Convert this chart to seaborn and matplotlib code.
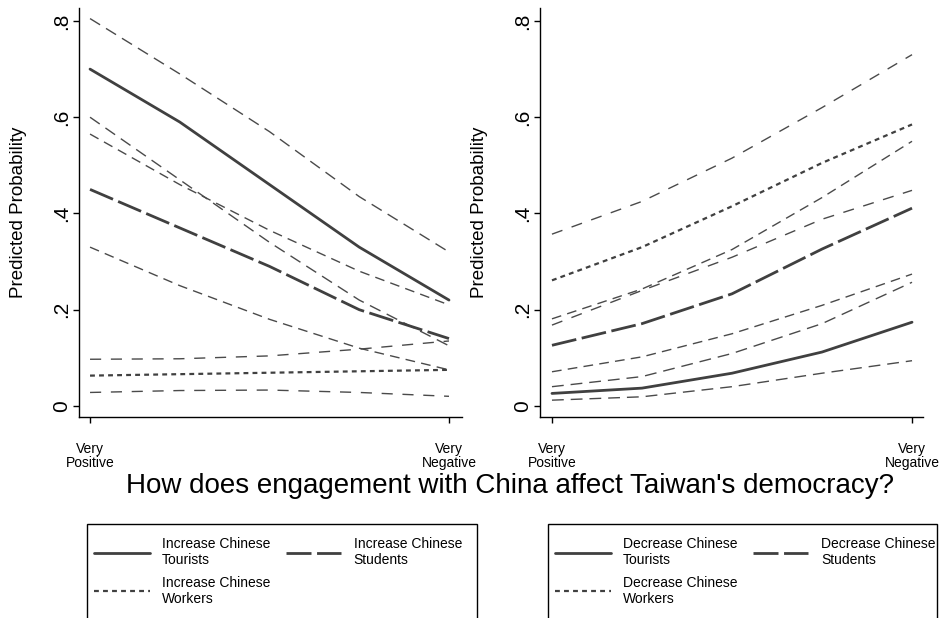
import matplotlib
matplotlib.use("Agg")
import matplotlib.pyplot as plt
from matplotlib.lines import Line2D
from matplotlib.patches import Rectangle
import numpy as np
import pandas as pd
import seaborn as sns

# Attitude scale (1 = very positive ... 5 = very negative)
x_levels = [1, 2, 3, 4, 5]
x_ticks = [1, 5]
x_ticklabels = ["Very\nPositive", "Very\nNegative"]
y_ticks = [0, 0.2, 0.4, 0.6, 0.8]
y_ticklabels = ["0", ".2", ".4", ".6", ".8"]

# Predicted probability: increase engagement (point estimate, upper, lower)
inc_tourists = [0.700, 0.590, 0.460, 0.330, 0.220]
inc_tourists_hi = [0.805, 0.690, 0.570, 0.435, 0.320]
inc_tourists_lo = [0.600, 0.470, 0.340, 0.220, 0.125]
inc_students = [0.450, 0.370, 0.290, 0.200, 0.140]
inc_students_hi = [0.565, 0.460, 0.365, 0.280, 0.210]
inc_students_lo = [0.330, 0.250, 0.180, 0.120, 0.075]
inc_workers = [0.063, 0.066, 0.069, 0.072, 0.075]
inc_workers_hi = [0.097, 0.098, 0.104, 0.118, 0.135]
inc_workers_lo = [0.028, 0.032, 0.033, 0.028, 0.020]

# Predicted probability: decrease engagement
dec_tourists = [0.026, 0.037, 0.068, 0.112, 0.174]
dec_tourists_hi = [0.040, 0.061, 0.109, 0.171, 0.257]
dec_tourists_lo = [0.012, 0.019, 0.040, 0.068, 0.094]
dec_students = [0.126, 0.171, 0.233, 0.326, 0.411]
dec_students_hi = [0.181, 0.243, 0.325, 0.433, 0.550]
dec_students_lo = [0.071, 0.102, 0.150, 0.209, 0.274]
dec_workers = [0.261, 0.330, 0.415, 0.505, 0.585]
dec_workers_hi = [0.357, 0.425, 0.515, 0.620, 0.730]
dec_workers_lo = [0.168, 0.240, 0.309, 0.388, 0.448]

groups = ["Tourists", "Students", "Workers"]
panels = {
    "Increase": {
        "Tourists": (inc_tourists, inc_tourists_hi, inc_tourists_lo),
        "Students": (inc_students, inc_students_hi, inc_students_lo),
        "Workers": (inc_workers, inc_workers_hi, inc_workers_lo),
    },
    "Decrease": {
        "Tourists": (dec_tourists, dec_tourists_hi, dec_tourists_lo),
        "Students": (dec_students, dec_students_hi, dec_students_lo),
        "Workers": (dec_workers, dec_workers_hi, dec_workers_lo),
    },
}

rows = []
for panel, series in panels.items():
    for group, (est, hi, lo) in series.items():
        for band, vals in (("est", est), ("hi", hi), ("lo", lo)):
            for xv, yv in zip(x_levels, vals):
                rows.append(dict(panel=panel, group=group, band=band, x=xv, y=yv))
df = pd.DataFrame(rows)

sns.set_style("ticks")
plt.rcParams["font.family"] = ["Liberation Sans", "DejaVu Sans"]
plt.rcParams["lines.scale_dashes"] = False
for key in ("text.color", "axes.labelcolor", "xtick.color", "ytick.color"):
    plt.rcParams[key] = "black"

est_style = {
    "Tourists": "-",
    "Students": (0, (18, 4)),
    "Workers": (0, (3.5, 3)),
}
ci_style = {
    "Tourists": (0, (8.5, 5)),
    "Students": (0, (7, 4.5)),
    "Workers": (0, (8, 7)),
}
est_width = {"Tourists": 2.0, "Students": 2.0, "Workers": 1.6}
est_color = "#404040"
ci_color = "#4a4a4a"

fig = plt.figure(figsize=(9.44, 6.18), dpi=100)
W, H = 944, 618


def ax_rect(x0, x1, y0, y1):
    return [x0 / W, 1 - y1 / H, (x1 - x0) / W, (y1 - y0) / H]


axes = {
    "Increase": fig.add_axes(ax_rect(79, 462, 8, 417)),
    "Decrease": fig.add_axes(ax_rect(540, 923, 8, 417)),
}
xlims = {"Increase": (0.877, 5.145), "Decrease": (0.867, 5.122)}

for panel, ax in axes.items():
    sub = df[df["panel"] == panel]
    for group in groups:
        for band in ("hi", "lo"):
            d = sub[(sub["group"] == group) & (sub["band"] == band)]
            sns.lineplot(data=d, x="x", y="y", ax=ax, color=ci_color,
                         linewidth=1.0, linestyle=ci_style[group], legend=False)
        d = sub[(sub["group"] == group) & (sub["band"] == "est")]
        sns.lineplot(data=d, x="x", y="y", ax=ax, color=est_color,
                     linewidth=est_width[group], linestyle=est_style[group],
                     legend=False)

    ax.set_xlim(*xlims[panel])
    ax.set_ylim(-0.023, 0.827)
    ax.set_xticks(x_ticks)
    ax.set_xticklabels(x_ticklabels, fontsize=10, linespacing=1.0)
    ax.set_yticks(y_ticks)
    ax.set_yticklabels(y_ticklabels, rotation=90, va="center", fontsize=15)
    ax.set_xlabel("")
    ax.set_ylabel("Predicted Probability", fontsize=13.5, labelpad=18)
    ax.tick_params(axis="both", direction="out", length=4, width=1,
                   color="black", labelcolor="black")
    ax.tick_params(axis="x", pad=14)
    ax.tick_params(axis="y", pad=2)
    for s in ("left", "bottom"):
        ax.spines[s].set_color("black")
        ax.spines[s].set_linewidth(1.0)
    sns.despine(ax=ax)

fig.text(510 / W, 1 - 493 / H,
         "How does engagement with China affect Taiwan's democracy?",
         ha="center", va="baseline", fontsize=20, color="black")


def make_handles():
    return {g: Line2D([], [], color=est_color, linewidth=est_width[g],
                      linestyle=est_style[g]) for g in groups}


for panel, (bx0, bx1) in (("Increase", (87, 477)), ("Decrease", (548, 937))):
    fig.add_artist(Rectangle((bx0 / W, -0.05), (bx1 - bx0) / W,
                             1 - 524 / H + 0.05, transform=fig.transFigure,
                             fill=False, edgecolor="black", linewidth=1.0))
    h = make_handles()
    order = ["Tourists", "Workers", "Students"]
    fig.legend([h[g] for g in order],
               [f"{panel} Chinese\n{g}" for g in order],
               loc="upper left", bbox_to_anchor=((bx0 + 7) / W, 1 - 537 / H),
               ncol=2, frameon=False, fontsize=10, handlelength=4.0,
               handletextpad=0.9, columnspacing=1.1, labelspacing=0.6,
               borderpad=0, borderaxespad=0, labelcolor="black")

fig.savefig("out.png", dpi=100)
